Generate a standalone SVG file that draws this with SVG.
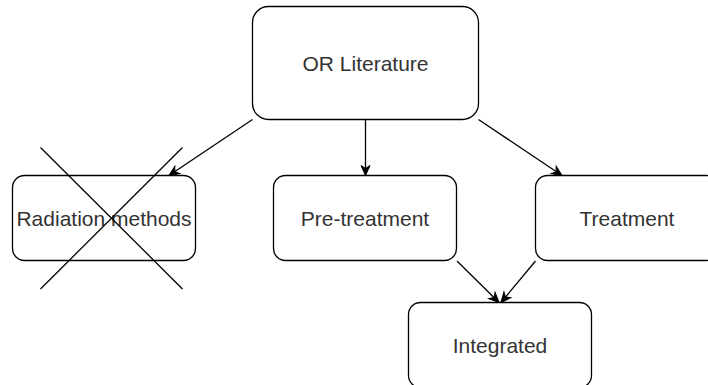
<svg xmlns="http://www.w3.org/2000/svg" width="708" height="385" viewBox="0 0 708 385">
  <defs>
    <marker id="arrow" markerUnits="userSpaceOnUse" markerWidth="14" markerHeight="14" viewBox="-12 -7 14 14" refX="0" refY="0" orient="auto">
      <path d="M0,0 L-10,-4.5 L-7,0 L-10,4.5 Z" fill="#000" stroke="#000" stroke-width="1"/>
    </marker>
    <style>
      .box { fill: #fff; stroke: #000; stroke-width: 1.3; }
      .lbl { font-family: "Liberation Sans", Arial, Helvetica, sans-serif; font-size: 21px; fill: #333; text-anchor: middle; }
      .edge { fill: none; stroke: #000; stroke-width: 1.3; marker-end: url(#arrow); }
      .cross { stroke: #000; stroke-width: 1.3; }
    </style>
  </defs>
  <rect width="708" height="385" fill="#fff"/>

  <g id="connectors">
    <line class="edge" x1="252.5" y1="119.5" x2="169" y2="175.5"/>
    <line class="edge" x1="365.5" y1="119.5" x2="365.5" y2="175.5"/>
    <line class="edge" x1="478.5" y1="119.5" x2="562" y2="175.5"/>
    <line class="edge" x1="457" y1="261" x2="499" y2="302.5"/>
    <line class="edge" x1="535.5" y1="261" x2="501" y2="302.5"/>
  </g>

  <g id="or-literature">
    <rect class="box" x="252.5" y="6.5" width="226" height="113" rx="16" ry="16"/>
    <text class="lbl" x="365.5" y="71">OR Literature</text>
  </g>

  <g id="radiation-methods">
    <rect class="box" x="12.5" y="175.5" width="183" height="85" rx="12" ry="12"/>
    <text class="lbl" x="104" y="226">Radiation methods</text>
    <line class="cross" x1="40.5" y1="147.5" x2="182.5" y2="289"/>
    <line class="cross" x1="182.5" y1="147.5" x2="40.5" y2="289"/>
  </g>

  <g id="pre-treatment">
    <rect class="box" x="273.5" y="175.5" width="183" height="85" rx="12" ry="12"/>
    <text class="lbl" x="365" y="226">Pre-treatment</text>
  </g>

  <g id="treatment">
    <rect class="box" x="535.5" y="175.5" width="183" height="85" rx="12" ry="12"/>
    <text class="lbl" x="627" y="226">Treatment</text>
  </g>

  <g id="integrated">
    <rect class="box" x="408.5" y="302.5" width="183" height="85" rx="12" ry="12"/>
    <text class="lbl" x="500" y="353">Integrated</text>
  </g>
</svg>
